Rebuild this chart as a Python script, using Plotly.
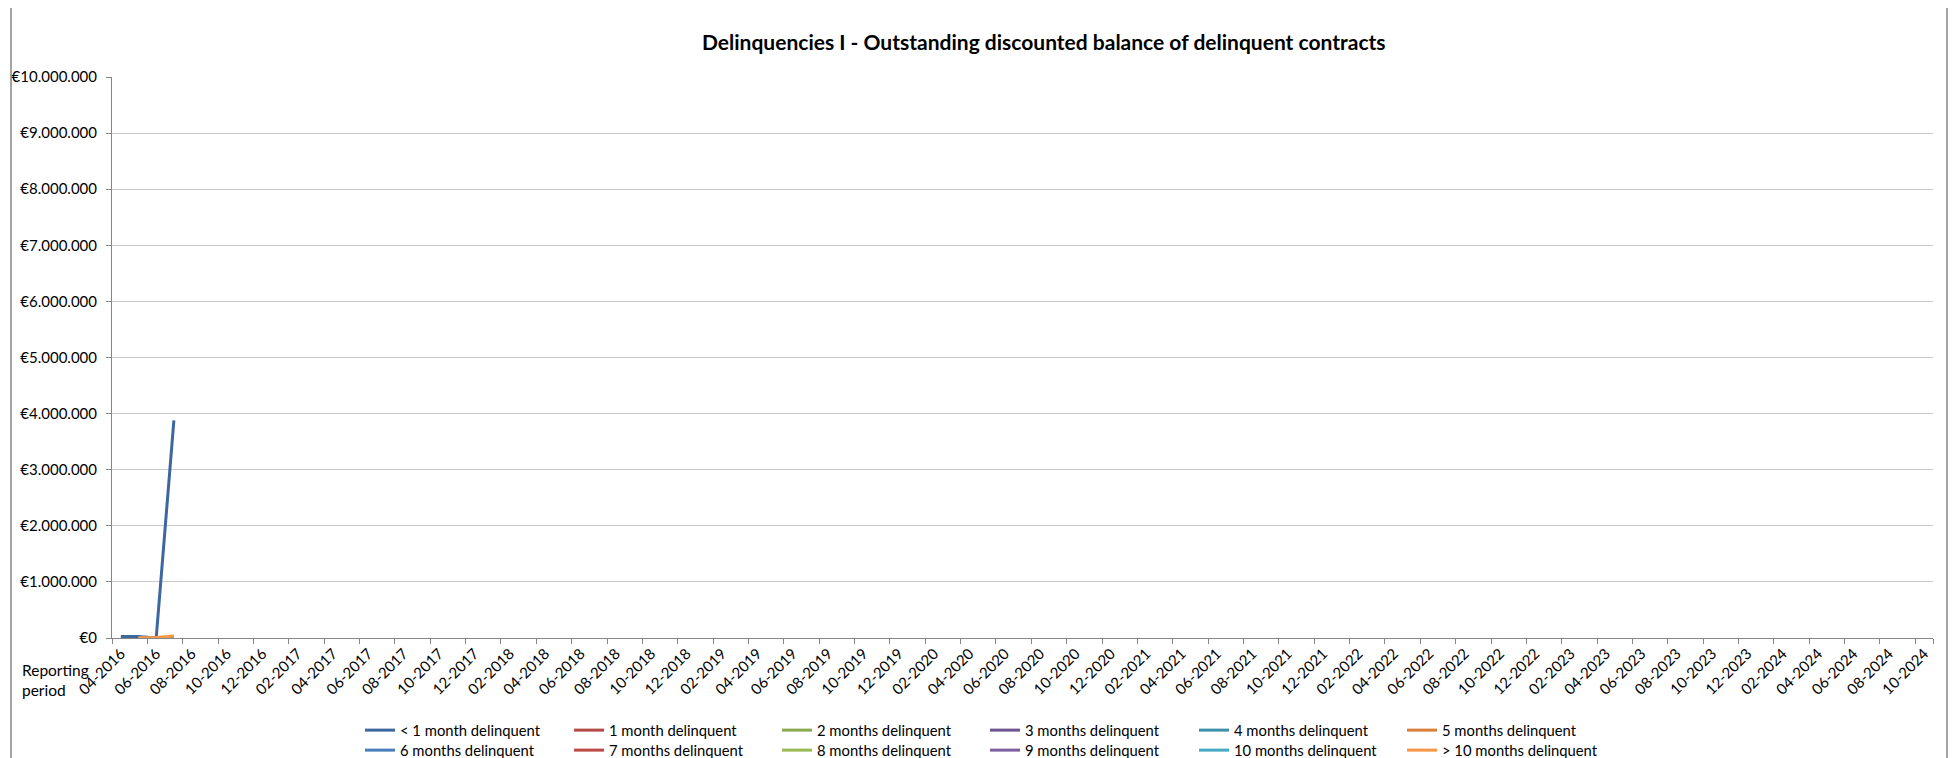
import plotly.graph_objects as go

# ---------------- data ----------------
years_months = [(y, m) for y in range(2016, 2025) for m in range(1, 13)]
periods = [f"{m:02d}-{y}" for (y, m) in years_months if (2016, 4) <= (y, m) <= (2024, 10)]

data_periods = ["04-2016", "05-2016", "06-2016", "07-2016"]

series_names = [
    "< 1 month delinquent", "1 month delinquent", "2 months delinquent",
    "3 months delinquent", "4 months delinquent", "5 months delinquent",
    "6 months delinquent", "7 months delinquent", "8 months delinquent",
    "9 months delinquent", "10 months delinquent", "> 10 months delinquent",
]

lt1_month = [25000, 25000, 0, 3880000]
m1 = [None, 0, 0, 0]
m2 = [None, 0, 0, 0]
m3 = [None, 0, 0, 0]
m4 = [None, 0, 0, 0]
m5 = [None, 0, 0, 0]
m6 = [None, 0, 0, 0]
m7 = [None, 0, 0, 0]
m8 = [None, 0, 0, 0]
m9 = [None, 0, 0, 0]
m10 = [None, 0, 0, 0]
gt10 = [None, 5000, 10000, 35000]

series_values = [lt1_month, m1, m2, m3, m4, m5, m6, m7, m8, m9, m10, gt10]

colors = [
    "#3D679F", "#B24A47", "#8BAA4E", "#6C5490", "#3D91AB", "#D88039",
    "#4A7EBB", "#BE4B48", "#98B954", "#7D60A0", "#46AAC5", "#F79646",
]

title_text = "Delinquencies I - Outstanding discounted balance of delinquent contracts"

# ---------------- layout geometry ----------------
W, H = 1956, 758
OFF = 8  # page body offset in the screenshot
# target plot area in screenshot pixels
SX0, SX1, SY0, SY1 = 112, 1933, 77, 638
L = SX0 - OFF
R = W - (SX1 - OFF)
T = SY0 - OFF
B = H - (SY1 - OFF)
PW = W - L - R
PH = H - T - B


def px_x(x):
    """screenshot x -> paper x"""
    return (x - OFF - L) / PW


def px_y(y):
    """screenshot y -> paper y"""
    return (H - B - (y - OFF)) / PH


FONT = "Lato"
TICK_SIZE = 15

legend_cols = [366, 575, 783, 991, 1200, 1408]
legend_rows = [731, 751]

fig = go.Figure()
legend_layouts = {}
for i, (name, vals, col) in enumerate(zip(series_names, series_values, colors)):
    key = "legend" if i == 0 else f"legend{i + 1}"
    fig.add_trace(go.Scatter(
        x=data_periods, y=vals, name=name, mode="lines",
        line=dict(color=col, width=3), connectgaps=False,
        legend=key,
    ))
    cx = legend_cols[i % 6]
    cy = legend_rows[i // 6]
    legend_layouts[key] = dict(
        orientation="v", x=px_x(cx - 6), xanchor="left",
        y=px_y(cy - 17), yanchor="top",
        font=dict(family=FONT, size=14.8, color="#000000"),
        bgcolor="rgba(0,0,0,0)", borderwidth=0, itemwidth=30,
    )

tickvals = periods[::2]

fig.update_layout(
    width=W, height=H,
    margin=dict(l=L, r=R, t=T, b=B, autoexpand=False),
    paper_bgcolor="white", plot_bgcolor="white",
    separators=",.",
    font=dict(family=FONT, size=14, color="#000000"),
    showlegend=True,
    xaxis=dict(
        type="category", categoryorder="array", categoryarray=periods,
        range=[-0.5, len(periods) - 0.5],
        tickmode="array", tickvals=tickvals, ticktext=tickvals,
        tickson="boundaries",
        tickangle=-45, ticks="outside", ticklen=5, tickcolor="#868686",
        showline=True, linecolor="#868686", linewidth=1,
        showgrid=False, zeroline=False,
        tickfont=dict(family=FONT, size=TICK_SIZE, color="#000000"),
    ),
    yaxis=dict(
        range=[0, 10000000], dtick=1000000, tick0=0,
        tickprefix="€", tickformat=",.0f",
        ticks="outside", ticklen=5, tickcolor="#868686",
        ticklabelstandoff=6,
        showline=True, linecolor="#868686", linewidth=1,
        showgrid=True, gridcolor="#C9C9C9", gridwidth=1,
        zeroline=False,
        tickfont=dict(family=FONT, size=TICK_SIZE, color="#000000"),
    ),
    shapes=[dict(
        type="rect", xref="paper", yref="paper",
        x0=px_x(11), x1=px_x(1947), y0=px_y(775), y1=px_y(7),
        line=dict(color="#868686", width=1.5), fillcolor="rgba(0,0,0,0)",
        layer="below",
    )],
    annotations=[
        dict(text="<b>" + title_text + "</b>", xref="paper", yref="paper",
             x=px_x(1044), y=px_y(42), xanchor="center", yanchor="middle",
             showarrow=False, font=dict(family=FONT, size=21, color="#000000")),
        dict(text="Reporting", xref="paper", yref="paper",
             x=px_x(20), y=px_y(670), xanchor="left", yanchor="middle",
             showarrow=False, font=dict(family=FONT, size=15.5, color="#000000")),
        dict(text="period", xref="paper", yref="paper",
             x=px_x(20), y=px_y(690), xanchor="left", yanchor="middle",
             showarrow=False, font=dict(family=FONT, size=15.5, color="#000000")),
    ],
)
fig.update_layout(**legend_layouts)

fig.write_html("out.html")
